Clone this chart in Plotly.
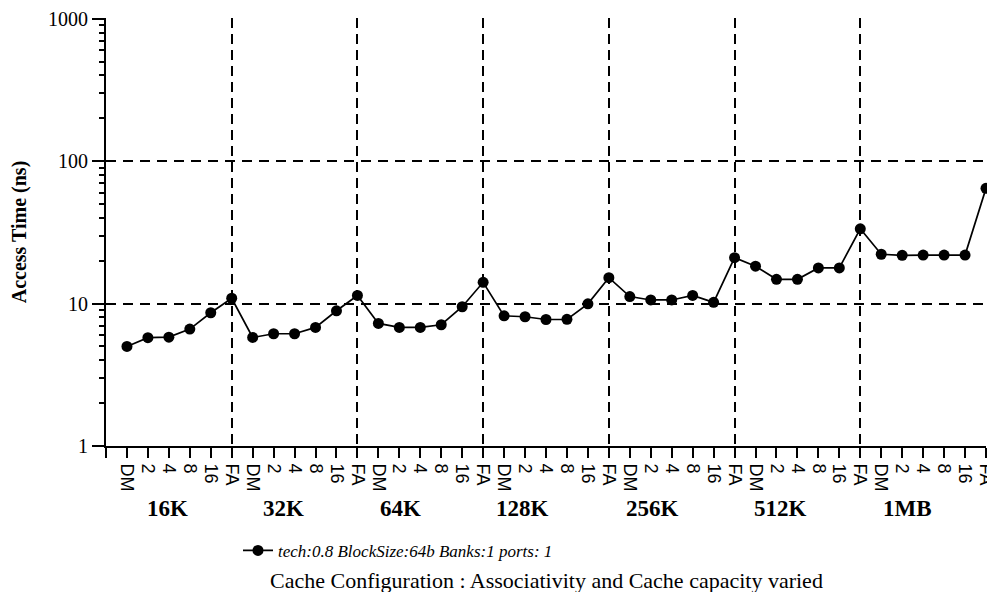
import plotly.graph_objects as go

# ---- data ----
assoc = ["DM", "2", "4", "8", "16", "FA"]
capacities = ["16K", "32K", "64K", "128K", "256K", "512K", "1MB"]
access_time = [
    5.0, 5.76, 5.81, 6.62, 8.62, 10.9,
    5.78, 6.14, 6.14, 6.8, 8.9, 11.4,
    7.25, 6.8, 6.8, 7.1, 9.5, 14.1,
    8.2, 8.08, 7.73, 7.75, 9.96, 15.2,
    11.2, 10.6, 10.6, 11.4, 10.2, 21.0,
    18.3, 14.8, 14.8, 17.8, 17.8, 33.5,
    22.2, 21.8, 21.9, 21.9, 21.9, 64.4,
]
series_name = "tech:0.8 BlockSize:64b Banks:1 ports: 1"
y_tick_vals = [1, 10, 100, 1000]
y_tick_text = ["1", "10", "100", "1000"]

# ---- derived ----
n = len(access_time)
x_pos = list(range(1, n + 1))
x_tick_vals = list(range(0, n + 1))
x_tick_text = [""] + [assoc[i % len(assoc)] for i in range(n)]
group_bounds = [len(assoc) * (k + 1) for k in range(len(capacities) - 1)]
group_label_x = [2.92, 8.47, 14.04, 19.9, 26.07, 32.19, 38.26]
minor_vals = [m * 10 ** d for d in range(3) for m in range(2, 10)]

serif = "Liberation Serif"
sans = "Liberation Sans"

fig = go.Figure()
fig.add_trace(go.Scatter(
    x=x_pos, y=access_time, mode="lines+markers", name=series_name,
    line=dict(color="black", width=1.7),
    marker=dict(color="black", size=11),
    cliponaxis=False, showlegend=True,
))
# invisible trace on overlay axis to host the group-boundary gridlines
fig.add_trace(go.Scatter(x=[0, n], y=[1, 1], xaxis="x2", mode="lines",
                         line=dict(width=0), showlegend=False, hoverinfo="skip"))

fig.update_layout(
    width=995, height=592,
    margin=dict(l=98, r=17, t=10, b=154, autoexpand=False),
    paper_bgcolor="white", plot_bgcolor="white",
    xaxis=dict(
        range=[0, n], tickmode="array", tickvals=x_tick_vals, ticktext=x_tick_text,
        tickangle=90, ticks="outside", ticklen=10, tickwidth=1.5, tickcolor="black",
        showgrid=False, zeroline=False, showline=True, linecolor="black", linewidth=2,
        tickfont=dict(family=sans, size=18, color="black"),
        ticklabeloverflow="allow", ticklabelstandoff=2, automargin=False,
    ),
    xaxis2=dict(
        range=[0, n], overlaying="x", tickmode="array", tickvals=group_bounds,
        showticklabels=False, ticks="", showgrid=True, gridcolor="black",
        gridwidth=1.5, griddash="10px,6px", zeroline=False, showline=False,
        side="bottom", automargin=False,
    ),
    yaxis=dict(
        type="log", range=[0, 3.005], tickmode="array", tickvals=y_tick_vals,
        ticktext=y_tick_text, ticks="outside", ticklen=12, tickwidth=1.5,
        tickcolor="black", showline=True, linecolor="black", linewidth=2,
        showgrid=True, gridcolor="black", gridwidth=1.5, griddash="10px,7px",
        zeroline=False, ticklabeloverflow="allow", automargin=False,
        tickfont=dict(family=serif, size=20, color="black"),
        minor=dict(tickmode="array", tickvals=minor_vals, ticks="outside",
                   ticklen=5, tickwidth=1.5, tickcolor="black", showgrid=False),
        title=dict(text="Access Time (ns)", standoff=26,
                   font=dict(family=serif, size=20, color="black", weight="bold")),
    ),
    legend=dict(
        orientation="h", x=0.15, xanchor="left", y=-0.245, yanchor="middle",
        font=dict(family=serif, size=17, color="black", style="italic"),
        bgcolor="rgba(0,0,0,0)",
    ),
    showlegend=True,
)

for lbl, gx in zip(capacities, group_label_x):
    fig.add_annotation(x=gx, xref="x", y=-0.145, yref="paper", text=lbl,
                       showarrow=False, xanchor="center", yanchor="middle",
                       font=dict(family=serif, size=23, color="black", weight="bold"))

fig.add_annotation(x=0.501, xref="paper", y=-0.315, yref="paper",
                   text="Cache Configuration : Associativity and Cache capacity varied",
                   showarrow=False, xanchor="center", yanchor="middle",
                   font=dict(family=serif, size=22, color="black"))

fig.write_html("out.html")
